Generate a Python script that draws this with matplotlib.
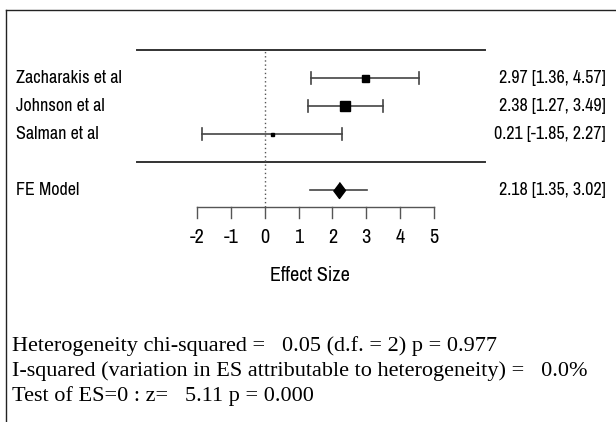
import numpy as np
import matplotlib.pyplot as plt
from matplotlib.lines import Line2D

# study data
studies = ["Zacharakis et al", "Johnson et al", "Salman et al"]
es = [2.97, 2.38, 0.21]
ci_lo = [1.36, 1.27, -1.85]
ci_hi = [4.57, 3.49, 2.27]
box_px = [7, 10, 3]          # box sizes (weights)

fe_label = "FE Model"
fe_es, fe_lo, fe_hi = 2.18, 1.35, 3.02

ticks = [-2, -1, 0, 1, 2, 3, 4, 5]

stats_lines = [
    "Heterogeneity chi-squared =   0.05 (d.f. = 2) p = 0.977",
    "I-squared (variation in ES attributable to heterogeneity) =   0.0%",
    "Test of ES=0 : z=   5.11 p = 0.000",
]

W, H = 616, 422
fig = plt.figure(figsize=(W / 100, H / 100), dpi=100)
ax = fig.add_axes([0, 0, 1, 1])
ax.axis("off")

# pixel mapping: x=-2 -> 197px, x=5 -> 434px ; row r -> 162 - 28 r (from top)
ppu = (434 - 197) / 7
x0 = -2 - 197 / ppu
ax.set_xlim(x0, x0 + W / ppu)
ax.set_ylim((162 - H) / 28, 162 / 28)

sans = ["Archivo Narrow", "Liberation Sans", "DejaVu Sans"]
fs = 13
fs_axis = 14.5
dark = "#333333"

k = len(studies)
rows = np.arange(k, 0, -1)
x_left = x0 + 137 / ppu
x_right = x0 + 485 / ppu

# top and separator lines
ax.plot([x_left, x_right], [k + 1, k + 1], color=dark, lw=1.4)
ax.plot([x_left, x_right], [0, 0], color=dark, lw=1.4)

# reference line at zero
y_axis = (162 - 207) / 28
ax.plot([0, 0], [y_axis, k + 1], color="#555555", lw=1, linestyle=(0, (1, 2)))

cap = 6 / 28
for r, name, m, lo, hi, s in zip(rows, studies, es, ci_lo, ci_hi, box_px):
    ax.plot([lo, hi], [r, r], color="#444444", lw=1.2)
    ax.plot([lo, lo], [r - cap, r + cap], color="#444444", lw=1.2)
    ax.plot([hi, hi], [r - cap, r + cap], color="#444444", lw=1.2)
    ax.plot(m, r, marker="s", color="black", markersize=s * 0.72, linestyle="none")
    ax.text(16 / W, r, name, transform=ax.get_yaxis_transform(), ha="left",
            va="center", fontsize=fs, family=sans)
    ax.text(606 / W, r, f"{m:.2f} [{lo:.2f}, {hi:.2f}]", transform=ax.get_yaxis_transform(),
            ha="right", va="center", fontsize=fs, family=sans)

# summary
ax.plot([fe_lo, fe_hi], [-1, -1], color="#444444", lw=1.2)
diamond = [(0, 1), (0.75, 0), (0, -1), (-0.75, 0)]
ax.plot(fe_es, -1, marker=diamond, color="black", markersize=16 * 0.72, linestyle="none")
ax.text(16 / W, -1, fe_label, transform=ax.get_yaxis_transform(), ha="left",
        va="center", fontsize=fs, family=sans)
ax.text(606 / W, -1, f"{fe_es:.2f} [{fe_lo:.2f}, {fe_hi:.2f}]",
        transform=ax.get_yaxis_transform(), ha="right", va="center", fontsize=fs, family=sans)

# x axis
tick_len = 11 / 28
ax.plot([ticks[0], ticks[-1]], [y_axis, y_axis], color="#555555", lw=1)
for t in ticks:
    ax.plot([t, t], [y_axis, y_axis - tick_len], color="#555555", lw=1)
    ax.text(t, (162 - 237) / 28, f"{t}", ha="center", va="center", fontsize=fs_axis, family=sans)
ax.text((310 - 197) / ppu - 2, (162 - 275) / 28, "Effect Size", ha="center",
        va="center", fontsize=fs_axis, family=sans)

# frame (top and left only)
fig.add_artist(Line2D([5.5 / W, 1], [1 - 9.5 / H, 1 - 9.5 / H], color="#222222", lw=1))
fig.add_artist(Line2D([5.5 / W, 5.5 / W], [0, 1 - 9.5 / H], color="#222222", lw=1))

# statistics text
for i, line in enumerate(stats_lines):
    fig.text(12 / W, 1 - (346 + 25 * i) / H, line, ha="left", va="center",
             fontsize=16, family=["Liberation Serif", "DejaVu Serif"])

fig.savefig("out.png", dpi=100)
